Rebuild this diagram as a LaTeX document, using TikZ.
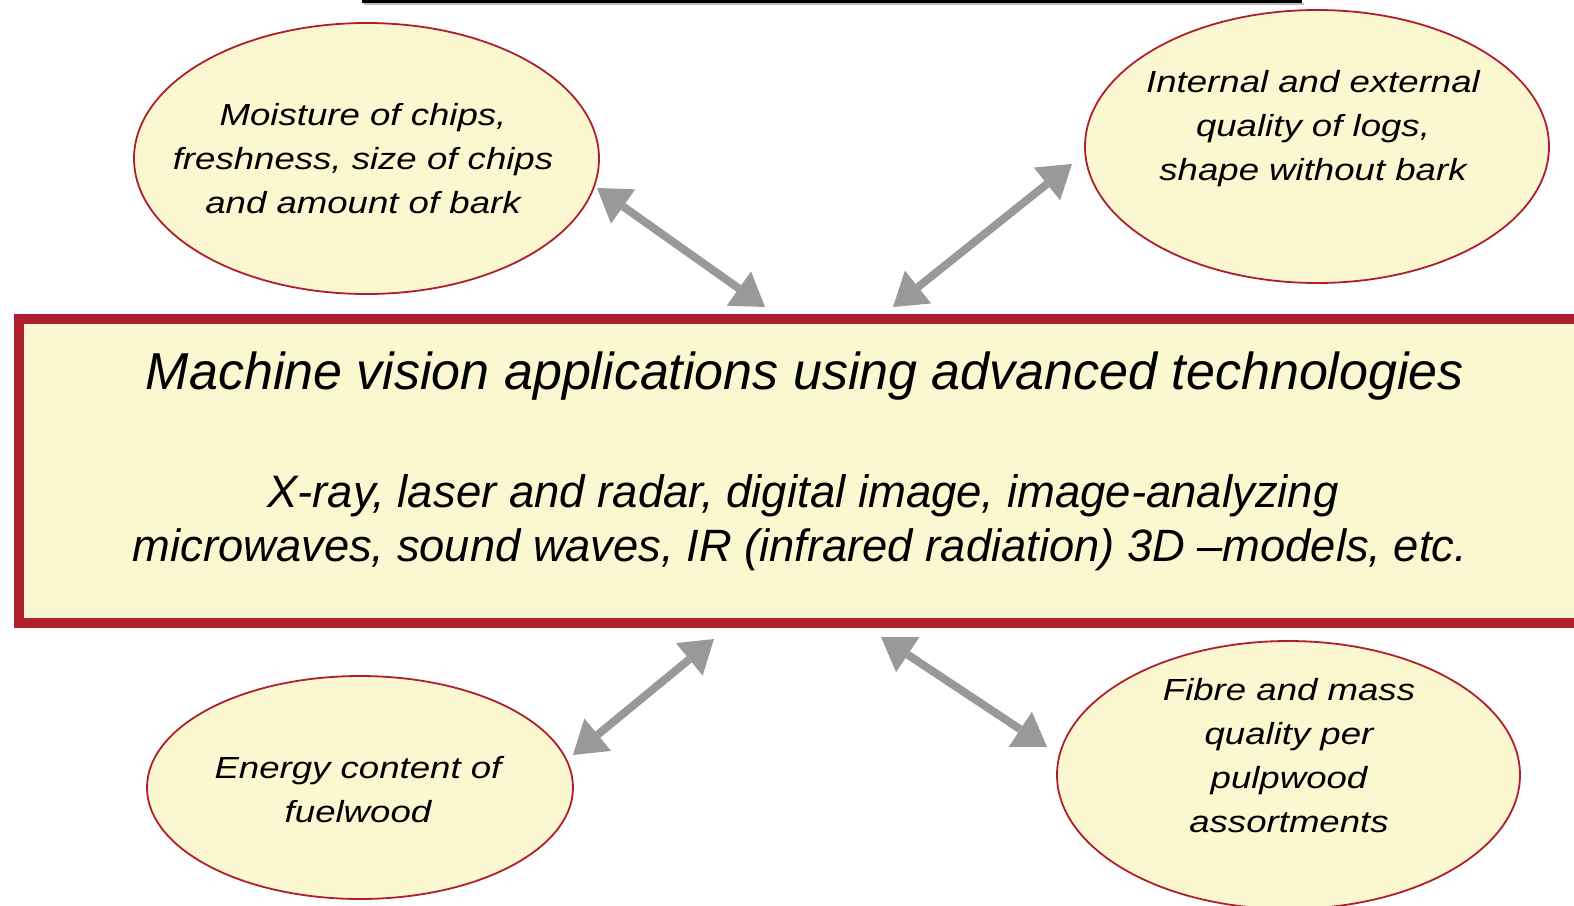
\documentclass[tikz,border=0pt]{standalone}
\usepackage{fontspec}
\usetikzlibrary{arrows.meta,shapes.geometric}
\newfontfamily\ellfont{Liberation Sans}[FakeStretch=1.2]
\newfontfamily\boxfont{Liberation Sans}
\definecolor{boxred}{RGB}{175,30,45}
\definecolor{paleyellow}{RGB}{251,247,208}
\definecolor{arrowgray}{RGB}{153,153,153}
\definecolor{shadowgray}{RGB}{187,187,195}
\tikzset{
  ell/.style={ellipse, draw=boxred, fill=paleyellow, line width=1.8pt, inner sep=0pt},
  elltext/.style={align=center, inner sep=0pt, font=\ellfont\itshape\fontsize{30.5}{44}\selectfont},
  mainbox/.style={rectangle, draw=boxred, fill=paleyellow, line width=10pt, inner sep=0pt},
  dblarrow/.style={draw=arrowgray, line width=8pt,
    {Triangle[length=32pt,width=42pt,line width=0pt]}-{Triangle[length=32pt,width=42pt,line width=0pt]}},
}
\begin{document}
\begin{tikzpicture}[x=1pt,y=-1pt]
\useasboundingbox (0,0) rectangle (1574,905);
% top rule
\coordinate (r1) at (362,1.5);
\coordinate (r2) at (1302,1.5);
\draw[shadowgray, line width=2.5pt] ([shift={(2,2.5)}]r1) -- ([shift={(2,2.5)}]r2);
\draw[black, line width=3pt] (r1) -- (r2);
% main box
\node[mainbox, minimum width=1562pt, minimum height=304pt] (box) at (800,470.5) {};
\node[anchor=base, inner sep=0pt, font=\boxfont\itshape\fontsize{52}{60}\selectfont] (title) at (805,389) {Machine vision applications using advanced technologies};
\node[anchor=base, inner sep=0pt, font=\boxfont\itshape\fontsize{45.5}{54}\selectfont] (body1) at (803,507) {X-ray, laser and radar, digital image, image-analyzing};
\node[anchor=base, inner sep=0pt, font=\boxfont\itshape\fontsize{45.3}{54}\selectfont] (body2) at (800,561) {microwaves, sound waves, IR (infrared radiation) 3D –models, etc.};
% ellipses
\node[ell, minimum width=465pt, minimum height=271pt] (e1) at (366.5,158.5) {};
\node[ell, minimum width=464pt, minimum height=273pt] (e2) at (1317,146.5) {};
\node[ell, minimum width=426pt, minimum height=223pt] (e3) at (360,787.5) {};
\node[ell, minimum width=463pt, minimum height=268pt] (e4) at (1288.5,775) {};
\node[elltext, anchor=base] (t1) at (363,213) {Moisture of chips,\\freshness, size of chips\\and amount of bark};
\node[elltext, anchor=base] (t2) at (1313,180) {Internal and external\\quality of logs,\\shape without bark};
\node[elltext, anchor=base] (t3) at (358,822) {Energy content of\\fuelwood};
\node[elltext, anchor=base] (t4) at (1289,832) {Fibre and mass\\quality per\\pulpwood\\assortments};
% arrow end points
\coordinate (a1) at (597,188);
\coordinate (b1) at (765,307);
\coordinate (a2) at (1072,164);
\coordinate (b2) at (893,307);
\coordinate (a3) at (573,755);
\coordinate (b3) at (714,639);
\coordinate (a4) at (1047,747);
\coordinate (b4) at (881,637);
\draw[dblarrow] (a1) -- (b1);
\draw[dblarrow] (a2) -- (b2);
\draw[dblarrow] (a3) -- (b3);
\draw[dblarrow] (a4) -- (b4);
\end{tikzpicture}
\end{document}
